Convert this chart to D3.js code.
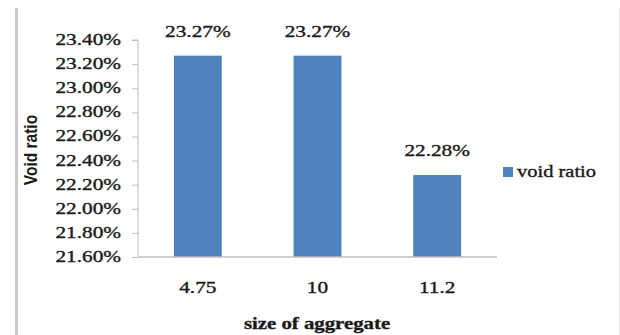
<!DOCTYPE html>
<html>
<head>
<meta charset="utf-8">
<script src="https://cdn.jsdelivr.net/npm/d3@7"></script>
<style>
  html, body { margin: 0; padding: 0; background: #fff; }
  svg { display: block; }
  text { fill: #1a1a1a; }
  .serif { font-family: "Times New Roman", "Liberation Serif", "DejaVu Serif", serif;
           stroke: #1a1a1a; stroke-width: 0.35px; }
  .sans { font-family: Arial, "Liberation Sans", sans-serif; }
</style>
</head>
<body>
<svg id="chart" width="620" height="335"></svg>
<script>
// Aggregate sizes and measured void ratio
const categories = ["4.75", "10", "11.2"];
const voidRatio = [0.2327, 0.2327, 0.2228];
const yTicks = [0.216, 0.218, 0.220, 0.222, 0.224, 0.226, 0.228, 0.230, 0.232, 0.234];
const seriesName = "void ratio";
const xTitle = "size of aggregate";
const yTitle = "Void ratio";

const svg = d3.select("#chart");
const plot = { left: 138, right: 497, top: 40, bottom: 257 };
const stretch = 1.33;           // wide glyph shape of the labels
const barColor = "#4f81bd";
const axisColor = "#bfbfbf";

// frame lines
svg.append("rect").attr("x", 15).attr("y", 8).attr("width", 3).attr("height", 327)
  .attr("fill", "#c9c9c9");
svg.append("line").attr("x1", 619.5).attr("x2", 619.5).attr("y1", 8).attr("y2", 335)
  .attr("stroke", "#e2e2e2").attr("stroke-width", 1);

const x = d3.scaleBand().domain(categories)
  .range([plot.left, plot.right]).paddingInner(0.6).paddingOuter(0.3);
const y = d3.scaleLinear().domain([yTicks[0], yTicks[yTicks.length - 1]])
  .range([plot.bottom, plot.top]);

const fmt = d3.format(".2%");

// stretched text helper
function label(g, tx, ty, str, opts = {}) {
  return g.append("text")
    .attr("class", "serif")
    .attr("transform", `translate(${tx},${ty}) scale(${opts.sx ?? stretch},1)`)
    .attr("text-anchor", opts.anchor || "middle")
    .attr("font-size", opts.size || 16)
    .attr("font-weight", opts.weight || "normal")
    .text(str);
}

// y axis
const yAxis = svg.append("g").attr("transform", `translate(${plot.left},0)`)
  .call(d3.axisLeft(y).tickValues(yTicks).tickSize(6).tickFormat(() => ""));
yAxis.select(".domain").attr("stroke", axisColor).attr("d", `M-6,${plot.top}H0V${plot.bottom}`);
yAxis.selectAll(".tick line").attr("stroke", axisColor);

yTicks.forEach(t => label(svg, 121, y(t) + 5, fmt(t), { anchor: "end" }));

// bars
svg.append("g").selectAll("rect").data(categories).join("rect")
  .attr("x", d => x(d))
  .attr("width", x.bandwidth())
  .attr("y", (d, i) => y(voidRatio[i]))
  .attr("height", (d, i) => plot.bottom - y(voidRatio[i]))
  .attr("fill", barColor);

// x axis
const xAxis = svg.append("g").attr("transform", `translate(0,${plot.bottom})`)
  .call(d3.axisBottom(x).tickSize(0).tickFormat(() => ""));
xAxis.select(".domain").attr("stroke", axisColor).attr("stroke-width", 1.5)
  .attr("d", `M${plot.left},0H${plot.right}`);

categories.forEach(c => label(svg, x(c) + x.bandwidth() / 2, 293, c));

// value labels
categories.forEach((c, i) =>
  label(svg, x(c) + x.bandwidth() / 2, y(voidRatio[i]) - 19, fmt(voidRatio[i])));

// axis titles
label(svg, 317, 329, xTitle, { weight: "bold", sx: 1.3 });
svg.append("text")
  .attr("class", "sans")
  .attr("transform", `translate(37,150) scale(1.15,1) rotate(-90)`)
  .attr("text-anchor", "middle")
  .attr("font-size", 15.5)
  .attr("font-weight", "bold")
  .text(yTitle);

// legend
svg.append("rect").attr("x", 503).attr("y", 167).attr("width", 10).attr("height", 10)
  .attr("fill", barColor);
label(svg, 517, 177, seriesName, { anchor: "start", sx: 1.28 });
</script>
</body>
</html>
